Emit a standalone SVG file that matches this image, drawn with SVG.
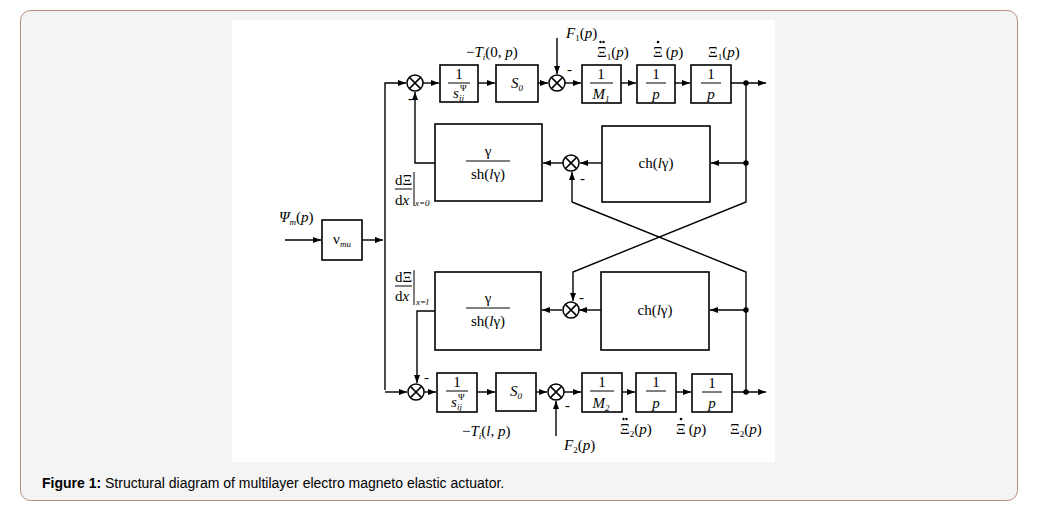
<svg xmlns="http://www.w3.org/2000/svg" width="1041" height="508" viewBox="0 0 1041 508">
<defs>
<marker id="a" markerWidth="8" markerHeight="6" refX="8" refY="3" orient="auto" markerUnits="userSpaceOnUse"><path d="M0,0L8,3L0,6z" fill="#000"/></marker>
<g id="sum"><circle r="8" fill="#fff" stroke="#000" stroke-width="1.5"/><path d="M-5.6,-5.6L5.6,5.6M-5.6,5.6L5.6,-5.6" stroke="#000" stroke-width="1.5"/></g>
</defs>
<style>
.b{fill:#fff;stroke:#000;stroke-width:1.6}
.c{fill:none;stroke:#000;stroke-width:1.4}
.t{font-family:"Liberation Serif",serif;font-size:15px;fill:#000}
.i{font-style:italic}
.s{font-size:9px}
</style>
<rect x="0" y="0" width="1041" height="508" fill="#fff"/>
<rect x="20.5" y="10.5" width="997" height="490" rx="10" fill="#f4f4f4" stroke="#b88a7a"/>
<rect x="232" y="20" width="543" height="442" fill="#fff"/>
<text x="42" y="488" font-family="Liberation Sans,Arial,sans-serif" font-size="14"><tspan font-weight="bold">Figure 1:</tspan> Structural diagram of multilayer electro magneto elastic actuator.</text>

<g id="connectors" class="c">
<path d="M285,240H321" marker-end="url(#a)"/>
<path d="M362,240H383" marker-end="url(#a)"/>
<path d="M385,390V83H406" marker-end="url(#a)"/>
<path d="M385,392H407" marker-end="url(#a)"/>
<path d="M423,83H439" marker-end="url(#a)"/>
<path d="M478,83H495" marker-end="url(#a)"/>
<path d="M538,83H548" marker-end="url(#a)"/>
<path d="M565,83H581" marker-end="url(#a)"/>
<path d="M621,83H636" marker-end="url(#a)"/>
<path d="M675,83H690" marker-end="url(#a)"/>
<path d="M731,83H766" marker-end="url(#a)"/>
<path d="M557,38V74" marker-end="url(#a)"/>
<path d="M435,163H415V92" marker-end="url(#a)"/>
<path d="M746,83V202L573,272V301" marker-end="url(#a)"/>
<path d="M746,163H711" marker-end="url(#a)"/>
<path d="M602,163H580" marker-end="url(#a)"/>
<path d="M563,163H543" marker-end="url(#a)"/>
<path d="M572,202V172" marker-end="url(#a)"/>
<path d="M572,202L746,272V392"/>
<path d="M746,310H710" marker-end="url(#a)"/>
<path d="M601,310H579" marker-end="url(#a)"/>
<path d="M562,310H542" marker-end="url(#a)"/>
<path d="M435,311H417V383" marker-end="url(#a)"/>
<path d="M424,392H436" marker-end="url(#a)"/>
<path d="M477,392H495" marker-end="url(#a)"/>
<path d="M536,392H547" marker-end="url(#a)"/>
<path d="M564,392H581" marker-end="url(#a)"/>
<path d="M622,392H635" marker-end="url(#a)"/>
<path d="M676,392H691" marker-end="url(#a)"/>
<path d="M732,392H766" marker-end="url(#a)"/>
<path d="M556,436V401" marker-end="url(#a)"/>
<circle cx="746" cy="83" r="2" fill="#000"/>
<circle cx="746" cy="163" r="2" fill="#000"/>
<circle cx="746" cy="310" r="2" fill="#000"/>
<circle cx="746" cy="392" r="2" fill="#000"/>
</g>

<g id="vmu"><rect class="b" x="322" y="220" width="40" height="40"/><text class="t" x="342" y="244" text-anchor="middle">ν<tspan class="s i" dy="3">mu</tspan></text></g>
<text class="t" x="279" y="222"><tspan class="i">Ψ</tspan><tspan class="s i" dy="3">m</tspan><tspan dy="-3">(</tspan><tspan class="i">p</tspan>)</text>

<g id="sum1"><use href="#sum" x="415" y="83"/><text class="t" x="408" y="103">-</text></g>
<g id="s1"><rect class="b" x="440" y="65" width="38" height="37"/><text class="t" x="459" y="79" text-anchor="middle">1</text><path d="M448,83H470" stroke="#000"/><text class="t i" x="453" y="98">s</text><text class="t s i" x="459" y="101">ij</text><text class="t s" x="460" y="91">Ψ</text></g>
<g id="S01"><rect class="b" x="496" y="65" width="42" height="37"/><text class="t i" x="517" y="88" text-anchor="middle">S<tspan class="s" dy="3">0</tspan></text></g>
<g id="sum2"><use href="#sum" x="557" y="83"/><text class="t" x="567" y="74">-</text></g>
<g id="M1"><rect class="b" x="582" y="65" width="39" height="38"/><text class="t" x="601" y="79" text-anchor="middle">1</text><path d="M590,83H613" stroke="#000"/><text class="t i" x="601" y="99" text-anchor="middle">M<tspan class="s" dy="3">1</tspan></text></g>
<g id="p1"><rect class="b" x="637" y="65" width="38" height="38"/><text class="t" x="656" y="79" text-anchor="middle">1</text><path d="M646,83H666" stroke="#000"/><text class="t i" x="656" y="99" text-anchor="middle">p</text></g>
<g id="p2"><rect class="b" x="691" y="65" width="40" height="38"/><text class="t" x="711" y="79" text-anchor="middle">1</text><path d="M701,83H721" stroke="#000"/><text class="t i" x="711" y="99" text-anchor="middle">p</text></g>
<text class="t" x="466" y="57">−<tspan class="i">T</tspan><tspan class="s i" dy="3">i</tspan><tspan dy="-3">(0, </tspan><tspan class="i">p</tspan>)</text>
<text class="t" x="566" y="38"><tspan class="i">F</tspan><tspan class="s" dy="3">1</tspan><tspan dy="-3">(</tspan><tspan class="i">p</tspan>)</text>
<text class="t" x="597" y="57">Ξ<tspan class="s" dy="3">1</tspan><tspan dy="-3">(</tspan><tspan class="i">p</tspan>)</text>
<text class="t" x="653" y="57">Ξ<tspan dx="3">(</tspan><tspan class="i">p</tspan>)</text>
<text class="t" x="708" y="57">Ξ<tspan class="s" dy="3">1</tspan><tspan dy="-3">(</tspan><tspan class="i">p</tspan>)</text>
<g fill="#000"><circle cx="600.5" cy="42" r="1.2"/><circle cx="603.5" cy="42" r="1.2"/><circle cx="658" cy="42" r="1.3"/><circle cx="623.5" cy="419" r="1.2"/><circle cx="626.5" cy="419" r="1.2"/><circle cx="681" cy="419" r="1.3"/></g>

<g id="g1"><rect class="b" x="435" y="124" width="107" height="77"/><text class="t" x="488" y="156" text-anchor="middle" font-size="11">γ</text><path d="M466,161H510" stroke="#000"/><text class="t" x="488" y="179" text-anchor="middle">sh(<tspan class="i">l</tspan>γ)</text></g>
<g id="sum3"><use href="#sum" x="571" y="163"/><text class="t" x="580" y="183">-</text></g>
<g id="ch1"><rect class="b" x="602" y="126" width="108" height="76"/><text class="t" x="656" y="168" text-anchor="middle">ch(<tspan class="i">l</tspan>γ)</text></g>
<text class="t" x="395" y="185" font-size="12">dΞ</text><path d="M395,189H412M414,172V206" stroke="#000"/><text class="t" x="395" y="205" font-size="12">d<tspan class="i">x</tspan></text><text class="t s i" x="415" y="206" font-size="7">x=0</text>

<g id="g2"><rect class="b" x="435" y="272" width="106" height="78"/><text class="t" x="488" y="303" text-anchor="middle" font-size="11">γ</text><path d="M466,308H510" stroke="#000"/><text class="t" x="488" y="326" text-anchor="middle">sh(<tspan class="i">l</tspan>γ)</text></g>
<g id="sum4"><use href="#sum" x="571" y="310"/><text class="t" x="579" y="302">-</text></g>
<g id="ch2"><rect class="b" x="601" y="272" width="108" height="78"/><text class="t" x="655" y="315" text-anchor="middle">ch(<tspan class="i">l</tspan>γ)</text></g>
<text class="t" x="395" y="282" font-size="12">dΞ</text><path d="M395,286H412M414,270V305" stroke="#000"/><text class="t" x="395" y="301" font-size="12">d<tspan class="i">x</tspan></text><text class="t s i" x="416" y="305" font-size="7">x=l</text>

<g id="sum5"><use href="#sum" x="416" y="392"/><text class="t" x="424" y="382">-</text></g>
<g id="s2"><rect class="b" x="437" y="373" width="40" height="39"/><text class="t" x="457" y="387" text-anchor="middle">1</text><path d="M446,391H468" stroke="#000"/><text class="t i" x="451" y="407">s</text><text class="t s i" x="457" y="410">ij</text><text class="t s" x="458" y="400">Ψ</text></g>
<g id="S02"><rect class="b" x="496" y="373" width="40" height="38"/><text class="t i" x="516" y="396" text-anchor="middle">S<tspan class="s" dy="3">0</tspan></text></g>
<g id="sum6"><use href="#sum" x="556" y="392"/><text class="t" x="565" y="410">-</text></g>
<g id="M2"><rect class="b" x="582" y="373" width="40" height="39"/><text class="t" x="602" y="387" text-anchor="middle">1</text><path d="M590,391H614" stroke="#000"/><text class="t i" x="601" y="408" text-anchor="middle">M<tspan class="s" dy="3">2</tspan></text></g>
<g id="p3"><rect class="b" x="636" y="373" width="40" height="39"/><text class="t" x="656" y="387" text-anchor="middle">1</text><path d="M646,391H666" stroke="#000"/><text class="t i" x="656" y="408" text-anchor="middle">p</text></g>
<g id="p4"><rect class="b" x="692" y="374" width="40" height="38"/><text class="t" x="712" y="388" text-anchor="middle">1</text><path d="M702,392H722" stroke="#000"/><text class="t i" x="712" y="408" text-anchor="middle">p</text></g>
<text class="t" x="462" y="436">−<tspan class="i">T</tspan><tspan class="s i" dy="3">i</tspan><tspan dy="-3">(</tspan><tspan class="i">l</tspan>, <tspan class="i">p</tspan>)</text>
<text class="t" x="564" y="450"><tspan class="i">F</tspan><tspan class="s" dy="3">2</tspan><tspan dy="-3">(</tspan><tspan class="i">p</tspan>)</text>
<text class="t" x="620" y="434">Ξ<tspan class="s" dy="3">2</tspan><tspan dy="-3">(</tspan><tspan class="i">p</tspan>)</text>
<text class="t" x="676" y="434">Ξ<tspan dx="3">(</tspan><tspan class="i">p</tspan>)</text>
<text class="t" x="730" y="434">Ξ<tspan class="s" dy="3">2</tspan><tspan dy="-3">(</tspan><tspan class="i">p</tspan>)</text>
</svg>
